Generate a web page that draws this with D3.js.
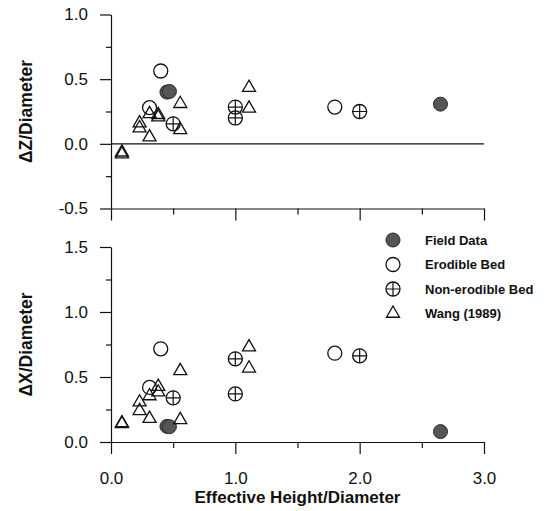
<!DOCTYPE html>
<html>
<head>
<meta charset="utf-8">
<script src="https://cdn.jsdelivr.net/npm/d3@7"></script>
<style>
  html, body { margin: 0; padding: 0; background: #fff; }
  svg { display: block; font-family: Arial, "Liberation Sans", Helvetica, sans-serif; }
</style>
</head>
<body>
<svg id="chart" width="546" height="511"></svg>
<script>
// Effective height / diameter for each series, with the vertical (ΔZ) and
// horizontal (ΔX) displacements, both normalised by the diameter.
const fieldX  = [0.45, 0.47, 2.65];
const fieldDZ = [0.40, 0.405, 0.307];
const fieldDX = [0.12, 0.118, 0.08];

const erodX  = [0.31, 0.40, 1.80];
const erodDZ = [0.28, 0.563, 0.284];
const erodDX = [0.42, 0.717, 0.683];

const nonErodX  = [0.50, 1.00, 1.00, 2.00];
const nonErodDZ = [0.155, 0.284, 0.20, 0.25];
const nonErodDX = [0.34, 0.64, 0.37, 0.663];

const wangX  = [0.088, 0.088, 0.23, 0.23, 0.31, 0.31, 0.38, 0.38, 0.557, 0.557, 1.11, 1.11];
const wangDZ = [-0.065, -0.08, 0.16, 0.122, 0.052, 0.232, 0.225, 0.207, 0.31, 0.108, 0.434, 0.274];
const wangDX = [0.14, 0.146, 0.306, 0.24, 0.18, 0.354, 0.426, 0.383, 0.547, 0.17, 0.73, 0.567];

const xMajor = [0, 1, 2, 3];
const xMinor = [0.5, 1.5, 2.5];
const xTickLabels = ["0.0", "1.0", "2.0", "3.0"];
const topMajor = [-0.5, 0, 0.5, 1.0];
const topMinor = [-0.25, 0.25, 0.75];
const botMajor = [0, 0.5, 1.0, 1.5];
const botMinor = [0.25, 0.75, 1.25];

const legendLabels = ["Field Data", "Erodible Bed", "Non-erodible Bed", "Wang (1989)"];
const legendKinds  = ["field", "erod", "nonerod", "wang"];

const svg = d3.select("#chart");

const x = d3.scaleLinear().domain([0, 3]).range([111, 484]);
const yTop = d3.scaleLinear().domain([-0.5, 1.0]).range([208.5, 14.5]);
const yBot = d3.scaleLinear().domain([0, 1.5]).range([442, 247]);

const fmt = d => d.toFixed(1);
const R = 7;

function styleAxis(g) {
  g.selectAll("path, line").attr("stroke", "#111").attr("stroke-width", 1.2);
  g.selectAll("text").attr("fill", "#111").attr("font-size", 17)
    .attr("font-family", "Arial, 'Liberation Sans', sans-serif");
}

function drawPanel(y, major, minor, labelX) {
  // minor ticks
  svg.append("g").attr("transform", `translate(${x(0)},0)`)
    .call(d3.axisLeft(y).tickValues(minor).tickSize(5).tickSizeOuter(0).tickFormat(""))
    .call(styleAxis).select(".domain").remove();
  svg.append("g").attr("transform", `translate(0,${y.range()[0]})`)
    .call(d3.axisBottom(x).tickValues(xMinor).tickSize(6).tickSizeOuter(0).tickFormat(""))
    .call(styleAxis).select(".domain").remove();
  // major ticks with axis lines
  svg.append("g").attr("transform", `translate(${x(0)},0)`)
    .call(d3.axisLeft(y).tickValues(major).tickSize(11).tickSizeOuter(0).tickPadding(12).tickFormat(fmt))
    .call(styleAxis);
  svg.append("g").attr("transform", `translate(0,${y.range()[0]})`)
    .call(d3.axisBottom(x).tickValues(xMajor).tickSize(12).tickSizeOuter(0).tickPadding(18)
      .tickFormat((d, i) => labelX ? xTickLabels[i] : ""))
    .call(styleAxis);
}

drawPanel(yTop, topMajor, topMinor, false);
drawPanel(yBot, botMajor, botMinor, true);

// zero reference line in the ΔZ panel
svg.append("line")
  .attr("x1", x(0)).attr("x2", x(3))
  .attr("y1", yTop(0)).attr("y2", yTop(0))
  .attr("stroke", "#111").attr("stroke-width", 1.2);

// marker drawing
function marker(g, kind, cx, cy) {
  if (kind === "field") {
    g.append("circle").attr("cx", cx).attr("cy", cy).attr("r", R)
      .attr("fill", "#555").attr("stroke", "#2a2a2a").attr("stroke-width", 1);
  } else if (kind === "erod") {
    g.append("circle").attr("cx", cx).attr("cy", cy).attr("r", R)
      .attr("fill", "none").attr("stroke", "#111").attr("stroke-width", 1.3);
  } else if (kind === "nonerod") {
    g.append("circle").attr("cx", cx).attr("cy", cy).attr("r", R)
      .attr("fill", "none").attr("stroke", "#111").attr("stroke-width", 1.3);
    g.append("path")
      .attr("d", `M${cx - R},${cy}H${cx + R}M${cx},${cy - R}V${cy + R}`)
      .attr("stroke", "#111").attr("stroke-width", 1.2);
  } else {
    const s = 13, h = s * Math.sqrt(3) / 2;
    g.append("path")
      .attr("d", `M${cx},${cy - h * 2 / 3}L${cx + s / 2},${cy + h / 3}L${cx - s / 2},${cy + h / 3}Z`)
      .attr("fill", "none").attr("stroke", "#111").attr("stroke-width", 1.3)
      .attr("stroke-linejoin", "miter");
  }
}

function plotSeries(y, xs, ys, kind) {
  const g = svg.append("g");
  xs.forEach((v, i) => marker(g, kind, x(v), y(ys[i])));
}

plotSeries(yTop, fieldX, fieldDZ, "field");
plotSeries(yTop, erodX, erodDZ, "erod");
plotSeries(yTop, nonErodX, nonErodDZ, "nonerod");
plotSeries(yTop, wangX, wangDZ, "wang");

plotSeries(yBot, fieldX, fieldDX, "field");
plotSeries(yBot, erodX, erodDX, "erod");
plotSeries(yBot, nonErodX, nonErodDX, "nonerod");
plotSeries(yBot, wangX, wangDX, "wang");

// axis titles
svg.append("text")
  .attr("transform", `translate(32,${(yTop.range()[0] + yTop.range()[1]) / 2}) rotate(-90)`)
  .attr("text-anchor", "middle").attr("font-size", 17.5).attr("font-weight", "bold")
  .attr("fill", "#111").text("ΔZ/Diameter");
svg.append("text")
  .attr("transform", `translate(32,${(yBot.range()[0] + yBot.range()[1]) / 2}) rotate(-90)`)
  .attr("text-anchor", "middle").attr("font-size", 17.5).attr("font-weight", "bold")
  .attr("fill", "#111").text("ΔX/Diameter");
svg.append("text")
  .attr("x", (x(0) + x(3)) / 2).attr("y", 503)
  .attr("text-anchor", "middle").attr("font-size", 17).attr("font-weight", "bold")
  .attr("fill", "#111").text("Effective Height/Diameter");

// legend
const legend = svg.append("g");
legendLabels.forEach((lab, i) => {
  const ly = 240 + i * 24.5;
  marker(legend, legendKinds[i], 393, ly);
  legend.append("text").attr("x", 425).attr("y", ly).attr("dy", "0.35em")
    .attr("font-size", 13).attr("font-weight", "bold").attr("fill", "#111").text(lab);
});
</script>
</body>
</html>
